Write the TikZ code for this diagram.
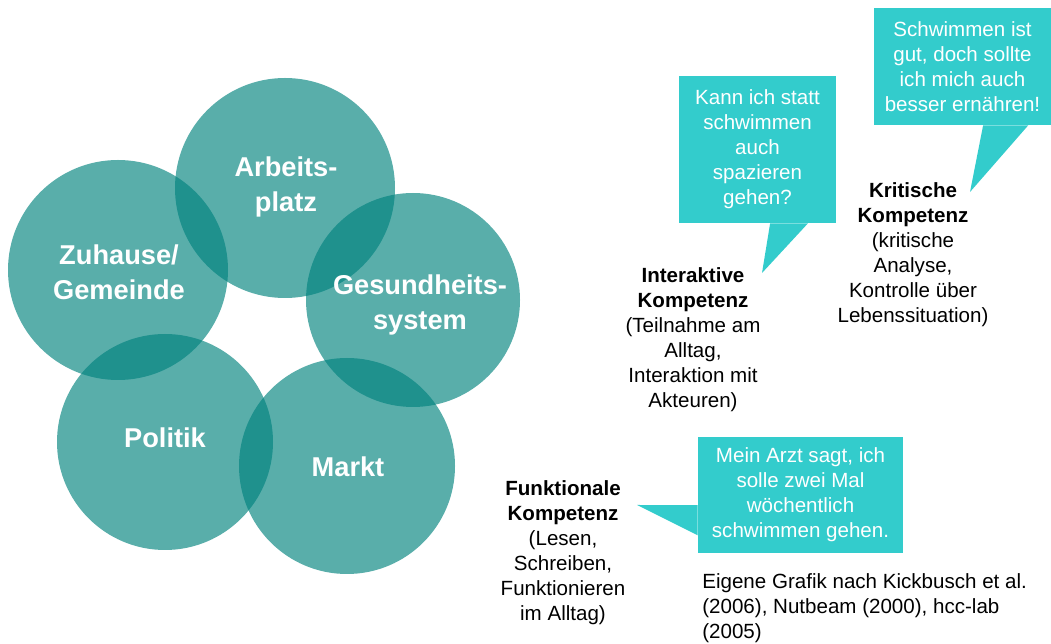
\documentclass[tikz,border=0pt]{standalone}
\usepackage{fontspec}
\setmainfont{Liberation Sans}
\usetikzlibrary{calc}
\definecolor{fieldteal}{RGB}{0,130,125}
\definecolor{bubblecyan}{RGB}{51,204,204}

\begin{document}
\begin{tikzpicture}[x=0.02cm,y=-0.02cm,
	field/.style={fill=fieldteal,fill opacity=0.65},
	fieldlabel/.style={text=white,align=center,inner sep=0pt,
		font=\fontsize{15.5}{20}\selectfont\bfseries},
	bubble/.style={fill=bubblecyan,text=white,align=center,inner sep=0pt,
		font=\fontsize{11.7}{14.2}\selectfont},
	skill/.style={align=center,inner sep=0pt,font=\fontsize{11.7}{14.2}\selectfont}]
	
	\useasboundingbox (0,0) rectangle (1051,644);
	
	%------------------------------
	% Settings (overlapping circles)
	%------------------------------
	\fill[field] (285,188) circle (110);
	\fill[field] (118,270) circle (110);
	\fill[field] (413,300) circle (107);
	\fill[field] (165,442) circle (108);
	\fill[field] (347,466) circle (108);
	
	\node[fieldlabel] (arbeit) at (286,187) {Arbeits-\\platz};
	\node[fieldlabel] (zuhause) at (119,272) {Zuhause/\\Gemeinde};
	\node[fieldlabel] (gesund) at (420,305) {Gesundheits-\\system};
	\node[fieldlabel] (politik) at (165,438) {Politik};
	\node[fieldlabel] (markt) at (348,467) {Markt};
	
	%------------------------------
	% Speech bubbles
	%------------------------------
	\node[bubble,minimum width=3.14cm,minimum height=2.94cm] (kann) at (757.5,149.5)
	{Kann ich statt\\schwimmen\\auch\\spazieren\\gehen?};
	\coordinate (kanntip) at (762,273);
	\fill[bubblecyan] ($(kann.south west)!0.58!(kann.south east)$) -- (kanntip)
	-- ($(kann.south west)!0.82!(kann.south east)$) -- cycle;
	
	\node[bubble,minimum width=3.54cm,minimum height=2.34cm] (schwimm) at (962.5,66.5)
	{Schwimmen ist\\gut, doch sollte\\ich mich auch\\besser ernähren!};
	\coordinate (schwimmtip) at (970,192);
	\fill[bubblecyan] ($(schwimm.south west)!0.616!(schwimm.south east)$) -- (schwimmtip)
	-- ($(schwimm.south west)!0.87!(schwimm.south east)$) -- cycle;
	
	\node[bubble,minimum width=4.1cm,minimum height=2.32cm] (arzt) at (800.5,495)
	{Mein Arzt sagt, ich\\solle zwei Mal\\wöchentlich\\schwimmen gehen.};
	\coordinate (arzttip) at (637,505);
	\fill[bubblecyan] ($(arzt.north west)!0.586!(arzt.south west)$) -- (arzttip)
	-- ($(arzt.north west)!0.845!(arzt.south west)$) -- cycle;
	
	%------------------------------
	% Competences
	%------------------------------
	\node[skill] (interaktiv) at (693,340)
	{\textbf{Interaktive}\\\textbf{Kompetenz}\\(Teilnahme am\\Alltag,\\Interaktion mit\\Akteuren)};
	\node[skill] (kritisch) at (913,255)
	{\textbf{Kritische}\\\textbf{Kompetenz}\\(kritische\\Analyse,\\Kontrolle über\\Lebenssituation)};
	\node[skill] (funktional) at (563,553)
	{\textbf{Funktionale}\\\textbf{Kompetenz}\\(Lesen,\\Schreiben,\\Funktionieren\\im Alltag)};
	
	% Source
	\node[skill,align=left,anchor=west] (quelle) at (702,608)
	{Eigene Grafik nach Kickbusch et al.\\(2006), Nutbeam (2000), hcc-lab\\(2005)};
	
\end{tikzpicture}
\end{document}
